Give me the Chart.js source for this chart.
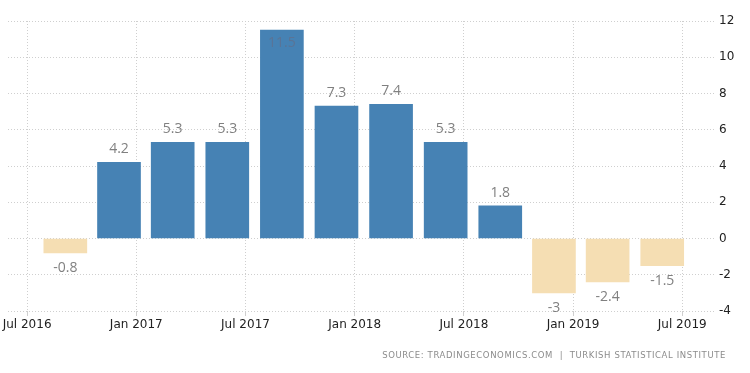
<!DOCTYPE html>
<html>
<head>
<meta charset="utf-8">
<script src="https://cdn.jsdelivr.net/npm/chart.js@4"></script>
<style>
  html, body { margin: 0; padding: 0; background: #fff; }
  #wrap { width: 750px; height: 373px; }
</style>
</head>
<body>
<div id="wrap"><canvas id="gdpChart" width="750" height="373"></canvas></div>
<script>
// Turkey GDP growth rate (YoY), quarterly
const quarters = ['Q3 2016', 'Q4 2016', 'Q1 2017', 'Q2 2017', 'Q3 2017', 'Q4 2017',
                  'Q1 2018', 'Q2 2018', 'Q3 2018', 'Q4 2018', 'Q1 2019', 'Q2 2019'];
// position of each bar, in months since Jan 2016
const barMonths = [8.1, 11.05, 14.0, 17.0, 20.0, 23.0, 26.0, 29.0, 32.0, 34.95, 37.9, 40.9];
const growth = [-0.8, 4.2, 5.3, 5.3, 11.5, 7.3, 7.4, 5.3, 1.8, -3, -2.4, -1.5];

const xTickMonths = [6, 12, 18, 24, 30, 36, 42];
const xTickLabels = ['Jul 2016', 'Jan 2017', 'Jul 2017', 'Jan 2018', 'Jul 2018', 'Jan 2019', 'Jul 2019'];
const yTicks = [-4, -2, 0, 2, 4, 6, 8, 10, 12];

const sourceText = 'SOURCE: TRADINGECONOMICS.COM  |  TURKISH STATISTICAL INSTITUTE';

// value labels above/below each bar (inside the bar when it would hit the top)
const valueLabels = {
    id: 'valueLabels',
    afterDatasetsDraw(chart) {
        const ctx = chart.ctx;
        const area = chart.chartArea;
        const meta = chart.getDatasetMeta(0);
        ctx.save();
        ctx.font = '14px "Open Sans", sans-serif';
        ctx.textAlign = 'center';
        ctx.textBaseline = 'middle';
        meta.data.forEach((bar, i) => {
            const v = growth[i];
            let y, color = '#808080';
            if (v >= 0) {
                y = bar.y - 13;
                if (y < area.top + 6) {
                    y = bar.y + 13;
                    color = '#5a7496';
                }
            } else {
                y = bar.y + 15;
            }
            ctx.fillStyle = color;
            ctx.fillText(String(v), bar.x, y);
        });
        ctx.restore();
    }
};

const sourceNote = {
    id: 'sourceNote',
    afterDraw(chart) {
        const ctx = chart.ctx;
        ctx.save();
        ctx.font = '8.5px "DejaVu Sans", sans-serif';
        ctx.letterSpacing = '0.6px';
        ctx.fillStyle = '#8c8c8c';
        ctx.textAlign = 'right';
        ctx.textBaseline = 'middle';
        ctx.fillText(sourceText, 726, 356);
        ctx.restore();
    }
};

const ctx = document.getElementById('gdpChart').getContext('2d');
new Chart(ctx, {
    type: 'bar',
    data: {
        labels: quarters,
        datasets: [{
            label: 'GDP Annual Growth Rate',
            data: barMonths.map((m, i) => ({ x: m, y: growth[i] })),
            backgroundColor: growth.map(v => v >= 0 ? '#4682b4' : '#f5deb3'),
            borderWidth: 0,
            barThickness: 43
        }]
    },
    options: {
        responsive: false,
        animation: false,
        layout: { padding: { left: 8, top: 21, right: 0, bottom: 0 } },
        plugins: {
            legend: { display: false },
            tooltip: { enabled: false }
        },
        scales: {
            x: {
                type: 'linear',
                offset: false,
                min: 4.95,
                max: 43.8,
                afterBuildTicks: scale => {
                    scale.ticks = xTickMonths.map(v => ({ value: v }));
                },
                afterFit: scale => { scale.height = 62; },
                ticks: {
                    autoSkip: false,
                    maxRotation: 0,
                    padding: 2,
                    color: '#222',
                    font: { family: '"DejaVu Sans", sans-serif', size: 12 },
                    callback: v => xTickLabels[xTickMonths.indexOf(v)]
                },
                grid: { color: '#cfcfcf', tickLength: 5, offset: false },
                border: { display: false, dash: [1, 2] }
            },
            y: {
                position: 'right',
                min: -4,
                max: 12,
                afterBuildTicks: scale => {
                    scale.ticks = yTicks.map(v => ({ value: v }));
                },
                afterFit: scale => { scale.width = 35; },
                ticks: {
                    padding: 4,
                    color: '#222',
                    font: { family: '"DejaVu Sans", sans-serif', size: 12 }
                },
                grid: { color: '#cfcfcf', drawTicks: false },
                border: { display: false, dash: [1, 2] }
            }
        }
    },
    plugins: [valueLabels, sourceNote]
});
</script>
</body>
</html>
